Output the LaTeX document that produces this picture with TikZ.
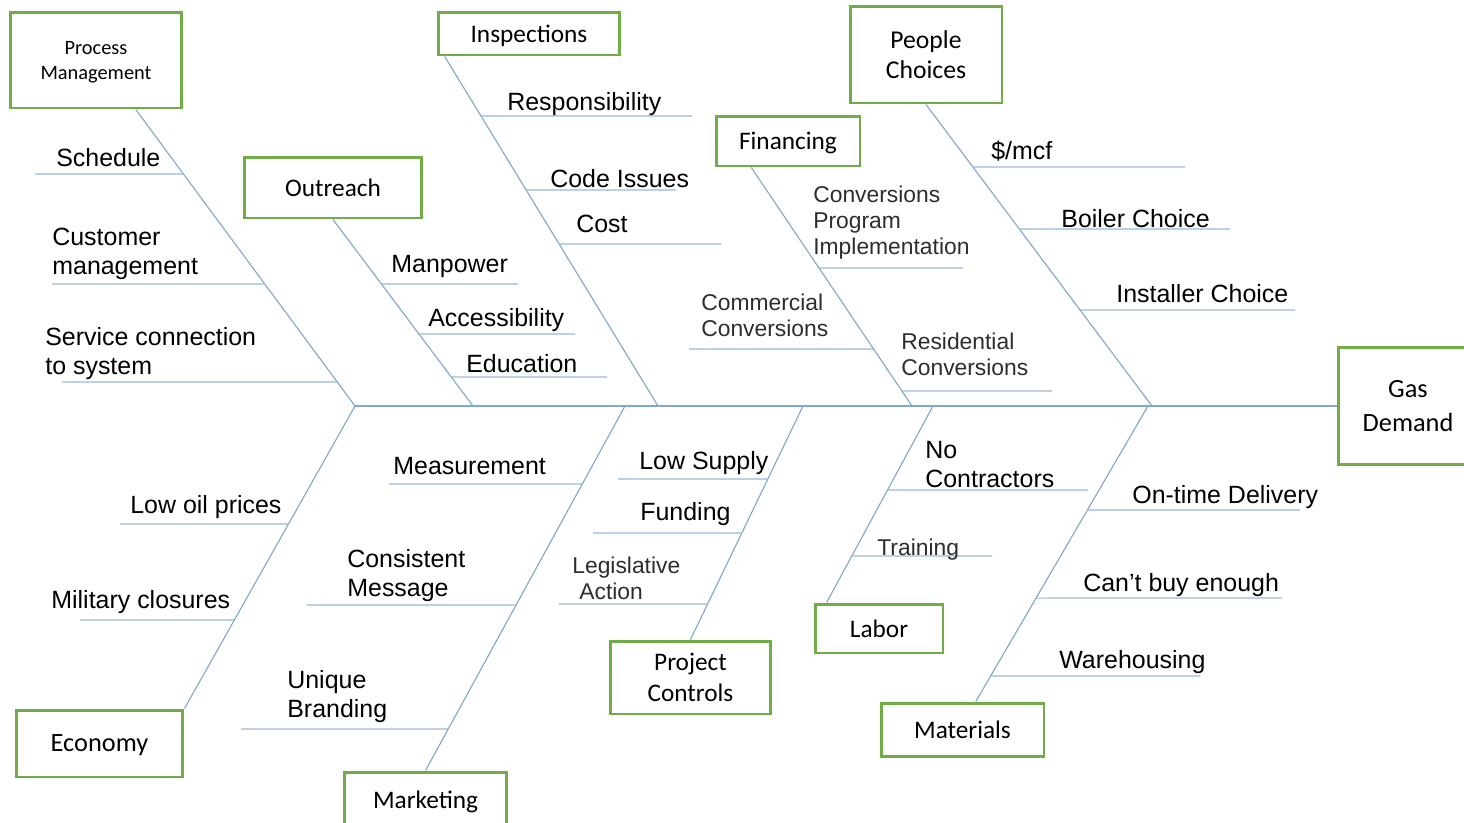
\documentclass[tikz,border=0pt]{standalone}
\usepackage{fontspec}
\setmainfont{Liberation Sans}
\newfontfamily\boxfont{Carlito}
\usepackage{tikz}
\usetikzlibrary{calc}
\definecolor{boxgreen}{RGB}{112,173,71}
\definecolor{bonecol}{RGB}{130,168,206}
\definecolor{ribcol}{RGB}{150,184,216}
\definecolor{litegray}{RGB}{45,45,45}
\tikzset{
  cause/.style={draw=boxgreen, line width=1.7pt, fill=white, align=center, inner sep=0, text depth=0pt, font=\boxfont\fontsize{14.4}{17.5}\selectfont},
  bone/.style={draw=bonecol, line width=0.65pt},
  rib/.style={draw=ribcol, line width=0.65pt},
  lbl/.style={anchor=west, inner sep=0, align=left, yshift=-1.2pt, font=\fontsize{14.2}{16.5}\selectfont},
  lite/.style={lbl, text=litegray, font=\fontsize{13}{14.8}\selectfont},
}

\begin{document}
\begin{tikzpicture}[x=0.02cm, y=-0.02cm]
\useasboundingbox (0,0) rectangle (1464,822);

% spine junctions
\coordinate (j1) at (355,406);
\coordinate (j2) at (473,406);
\coordinate (j3) at (625,406);
\coordinate (j4) at (658,406);
\coordinate (j5) at (803,406);
\coordinate (j6) at (912,406);
\coordinate (j7) at (933,406);
\coordinate (j8) at (1148,406);
\coordinate (j9) at (1152,406);

% cause boxes
\node[cause, minimum width=3.44cm, minimum height=1.92cm, font=\boxfont\fontsize{11.6}{14.2}\selectfont] (pm) at (96,60) {Process\\Management};
\node[cause, minimum width=3.64cm, minimum height=0.86cm] (insp) at (529,33.5) {Inspections};
\node[cause, minimum width=3.04cm, minimum height=1.94cm, font=\boxfont\fontsize{14.6}{17}\selectfont] (people) at (926,54.5) {People\\Choices};
\node[cause, minimum width=3.56cm, minimum height=1.22cm] (outr) at (333,187.5) {Outreach};
\node[cause, minimum width=2.88cm, minimum height=1cm] (fin) at (788,141) {Financing};
\node[cause, minimum width=2.8cm, minimum height=2.34cm, font=\boxfont\fontsize{15}{19.3}\selectfont] (gas) at (1408,406) {Gas\\Demand};
\node[cause, minimum width=3.34cm, minimum height=1.34cm, font=\boxfont\fontsize{15}{17}\selectfont] (econ) at (99.5,743.5) {Economy};
\node[cause, minimum width=3.26cm, minimum height=1.12cm] (mkt) at (425.5,800) {Marketing};
\node[cause, minimum width=3.22cm, minimum height=1.46cm, font=\boxfont\fontsize{14.4}{17.6}\selectfont] (pc) at (690.5,677.5) {Project\\Controls};
\node[cause, minimum width=2.56cm, minimum height=0.98cm] (labor) at (879,628.5) {Labor};
\node[cause, minimum width=3.26cm, minimum height=1.06cm] (mat) at (962.5,729.5) {Materials};

% where the bones leave the boxes
\coordinate (pmT) at ($(pm.south west)!0.727!(pm.south east)$);
\coordinate (inT) at ($(insp.south west)!0.044!(insp.south east)$);
\coordinate (fiT) at ($(fin.south west)!0.25!(fin.south east)$);
\coordinate (laT) at ($(labor.north west)!0.1!(labor.north east)$);
\coordinate (maT) at ($(mat.north west)!0.58!(mat.north east)$);

% spine and bones
\draw[bone] (j1) -- (gas.west);
\draw[bone] (pmT) -- (j1);
\draw[bone] (outr.south) -- (j2);
\draw[bone] (inT) -- (j4);
\draw[bone] (fiT) -- (j6);
\draw[bone] (people.south) -- (j9);
\draw[bone] (j1) -- (econ.north east);
\draw[bone] (j3) -- (mkt.north);
\draw[bone] (j5) -- (pc.north);
\draw[bone] (j7) -- (laT);
\draw[bone] (j8) -- (maT);

% ribs: name/height/free end
\foreach \n/\y/\x in {a/174/35, b/284/52, c/382/62}{
  \coordinate (pm\n) at (\x,\y);
  \draw[rib] (pm\n) -- (intersection of pmT--j1 and pm\n--2000,\y);
}
\foreach \n/\y/\x in {a/284/518, b/334/575, c/377/607}{
  \coordinate (ou\n) at (\x,\y);
  \draw[rib] (ou\n) -- (intersection of outr.south--j2 and ou\n--0,\y);
}
\foreach \n/\y/\x in {a/116/692, b/190/676, c/244/721}{
  \coordinate (in\n) at (\x,\y);
  \draw[rib] (in\n) -- (intersection of inT--j4 and in\n--0,\y);
}
\foreach \n/\y/\x in {a/268/963, b/349/689, c/391/1052}{
  \coordinate (fi\n) at (\x,\y);
  \draw[rib] (fi\n) -- (intersection of fiT--j6 and fi\n--1,\y);
}
\foreach \n/\y/\x in {a/167/1185, b/229/1230, c/310/1295}{
  \coordinate (pe\n) at (\x,\y);
  \draw[rib] (pe\n) -- (intersection of people.south--j9 and pe\n--0,\y);
}
\foreach \n/\y/\x in {a/524/120, b/620/80}{
  \coordinate (ec\n) at (\x,\y);
  \draw[rib] (ec\n) -- (intersection of j1--econ.north east and ec\n--2000,\y);
}
\foreach \n/\y/\x in {a/484/389, b/605/307, c/729/241}{
  \coordinate (mk\n) at (\x,\y);
  \draw[rib] (mk\n) -- (intersection of j3--mkt.north and mk\n--2000,\y);
}
\foreach \n/\y/\x in {a/479/618, b/533/593, c/604/559}{
  \coordinate (pc\n) at (\x,\y);
  \draw[rib] (pc\n) -- (intersection of j5--pc.north and pc\n--2000,\y);
}
\foreach \n/\y/\x in {a/490/1088, b/556/992}{
  \coordinate (la\n) at (\x,\y);
  \draw[rib] (la\n) -- (intersection of j7--laT and la\n--0,\y);
}
\foreach \n/\y/\x in {a/510/1300, b/598/1282, c/676/1200}{
  \coordinate (ma\n) at (\x,\y);
  \draw[rib] (ma\n) -- (intersection of j8--maT and ma\n--0,\y);
}

% labels
\node[lbl] (schL) at (56,155) {Schedule};
\node[lbl] (cusL) at (52,251.5) {Customer\\management};
\node[lbl] (serL) at (45,351.5) {Service connection\\to system};
\node[lbl] (manL) at (391,264) {Manpower};
\node[lbl] (accL) at (428,318) {Accessibility};
\node[lbl] (eduL) at (466,361) {Education};
\node[lbl] (respL) at (507,102) {Responsibility};
\node[lbl] (codL) at (550,176) {Code Issues};
\node[lbl] (cstL) at (576,222) {Cost};
\node[lite] (cpiL) at (813,220.5) {Conversions\\Program\\Implementation};
\node[lite] (comL) at (701,313.5) {Commercial\\Conversions};
\node[lite] (resiL) at (901,352) {Residential\\Conversions};
\node[lbl] (mcfL) at (991,149) {\$/mcf};
\node[lbl] (boiL) at (1061,216) {Boiler Choice};
\node[lbl] (insL) at (1116,291) {Installer Choice};
\node[lbl] (oilL) at (130,505) {Low oil prices};
\node[lbl] (milL) at (51,600) {Military closures};
\node[lbl] (meaL) at (393,464) {Measurement};
\node[lbl] (conL) at (347,573.5) {Consistent\\Message};
\node[lbl] (uniL) at (287,694.5) {Unique\\Branding};
\node[lbl] (lowL) at (639,461) {Low Supply};
\node[lbl] (funL) at (640,512) {Funding};
\node[lite] (legL) at (572,576) {Legislative\\\hspace*{4pt}Action};
\node[lbl] (nocL) at (925,462.5) {No\\Contractors};
\node[lite] (traL) at (877,547) {Training};
\node[lbl] (ontL) at (1132,495) {On-time Delivery};
\node[lbl] (canL) at (1083,583) {Can't buy enough};
\node[lbl] (warL) at (1059,660) {Warehousing};
\end{tikzpicture}
\end{document}
